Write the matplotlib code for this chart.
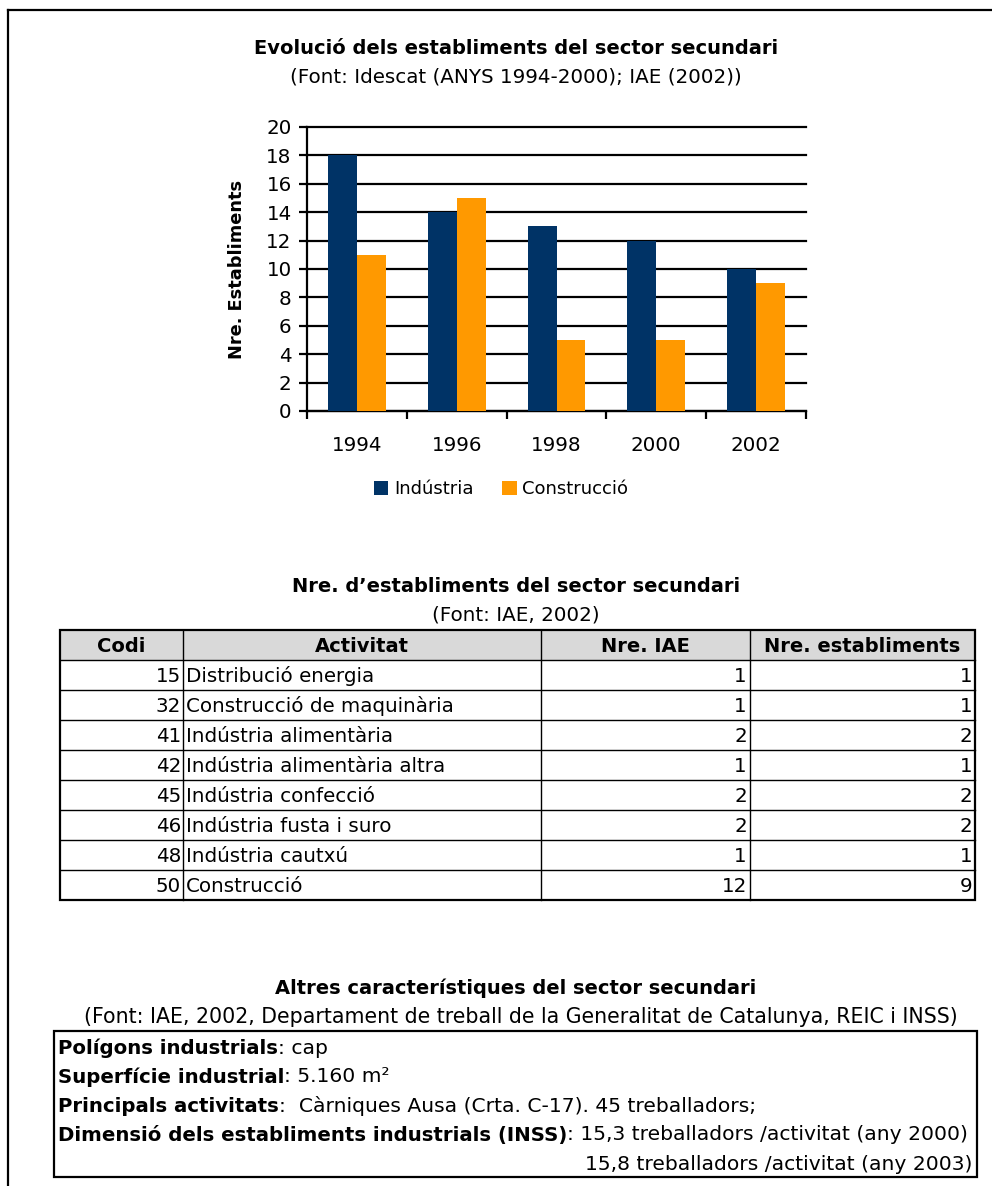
import numpy as np
import matplotlib
matplotlib.use('Agg')
import matplotlib.pyplot as plt
from matplotlib.patches import Rectangle

plt.rcParams['font.family'] = ['DejaVu Sans']

# chart data
years = ['1994', '1996', '1998', '2000', '2002']
industria = [18, 14, 13, 12, 10]
construccio = [11, 15, 5, 5, 9]

# table data
codis = [15, 32, 41, 42, 45, 46, 48, 50]
activitats = ['Distribució energia', 'Construcció de maquinària', 'Indústria alimentària',
              'Indústria alimentària altra', 'Indústria confecció', 'Indústria fusta i suro',
              'Indústria cautxú', 'Construcció']
nre_iae = [1, 1, 2, 1, 2, 2, 1, 12]
nre_est = [1, 1, 2, 1, 2, 2, 1, 9]
headers = ['Codi', 'Activitat', 'Nre. IAE', 'Nre. establiments']

# other features box
feat_bold = ['Polígons industrials', 'Superfície industrial', 'Principals activitats',
             'Dimensió dels establiments industrials (INSS)']
feat_text = [': cap', ': 5.160 m²', ':  Càrniques Ausa (Crta. C-17). 45 treballadors;',
             ': 15,3 treballadors /activitat (any 2000)']
feat_extra = '15,8 treballadors /activitat (any 2003)'

W, H = 992, 1186
fig = plt.figure(figsize=(W / 100, H / 100), dpi=100)

NAVY = '#003366'
ORANGE = '#FF9900'
FS = 14.3      # regular text
FSB = 14.0     # bold titles

# ---- bar chart ----
ax = fig.add_axes([307 / W, 1 - 411 / H, 499 / W, 284 / H])
x = np.arange(len(years))
bw = 0.29
b1 = ax.bar(x - bw / 2, industria, bw, color=NAVY, label='Indústria', zorder=3)
b2 = ax.bar(x + bw / 2, construccio, bw, color=ORANGE, label='Construcció', zorder=3)
ax.set_xlim(-0.5, len(years) - 0.5)
ax.set_ylim(0, 20)
ax.set_yticks(np.arange(0, 21, 2))
ax.set_xticks(x)
ax.set_xticklabels(years)
ax.set_xticks(np.arange(-0.5, len(years), 1), minor=True)
ax.tick_params(axis='x', which='major', length=0, pad=18, labelsize=FS)
ax.tick_params(axis='x', which='minor', length=6, width=1.6, direction='out')
ax.tick_params(axis='y', length=6, width=1.6, labelsize=FS, pad=5)
ax.yaxis.grid(True, color='black', linewidth=1.6, zorder=0)
for gl in ax.get_ygridlines():
    gl.set_clip_on(False)
ax.set_axisbelow(True)
for s in ['top', 'right']:
    ax.spines[s].set_visible(False)
ax.spines['left'].set_linewidth(1.6)
ax.spines['bottom'].set_linewidth(1.6)
ax.set_ylabel('Nre. Establiments', fontsize=12.8, fontweight='bold', labelpad=15)

fig.legend(handles=[b1, b2], loc='center', bbox_to_anchor=(501 / W, 1 - 489 / H),
           ncol=2, frameon=False, fontsize=13, handlelength=0.8, handleheight=0.8,
           handletextpad=0.3, columnspacing=1.6)

# ---- overlay in pixel coordinates ----
ov = fig.add_axes([0, 0, 1, 1], zorder=-1)
ov.set_xlim(0, W)
ov.set_ylim(H, 0)
ov.axis('off')

# page frame
ov.plot([8, W], [10, 10], color='black', lw=1.6)
ov.plot([8, 8], [10, H], color='black', lw=1.6)

ov.text(516, 48, 'Evolució dels establiments del sector secundari', ha='center', va='center',
        fontsize=FSB, fontweight='bold')
ov.text(516, 77, '(Font: Idescat (ANYS 1994-2000); IAE (2002))', ha='center', va='center',
        fontsize=FS)

# ---- table ----
ov.text(516, 587, 'Nre. d\u2019establiments del sector secundari', ha='center', va='center',
        fontsize=FSB, fontweight='bold')
ov.text(516, 615, '(Font: IAE, 2002)', ha='center', va='center', fontsize=FS)

col_x = [60, 183, 541, 750, 975]
top, hdr_h, row_h = 630, 30, 30
n = len(codis)
bottom = top + hdr_h + n * row_h
ov.add_patch(Rectangle((col_x[0], top), col_x[-1] - col_x[0], hdr_h, facecolor='#D9D9D9',
                       edgecolor='none'))
for i, h in enumerate(headers):
    ov.text((col_x[i] + col_x[i + 1]) / 2, top + hdr_h / 2 + 1, h, ha='center', va='center',
            fontsize=FSB, fontweight='bold')
for r in range(n):
    yc = top + hdr_h + r * row_h + row_h / 2 + 1
    ov.text(col_x[1] - 2, yc, str(codis[r]), ha='right', va='center', fontsize=FS)
    ov.text(col_x[1] + 3, yc, activitats[r], ha='left', va='center', fontsize=FS)
    ov.text(col_x[3] - 3, yc, str(nre_iae[r]), ha='right', va='center', fontsize=FS)
    ov.text(col_x[4] - 3, yc, str(nre_est[r]), ha='right', va='center', fontsize=FS)
# grid lines
for r in range(1, n + 1):
    yl = top + hdr_h + (r - 1) * row_h
    ov.plot([col_x[0], col_x[-1]], [yl, yl], color='black', lw=1.0)
for cx in col_x[1:-1]:
    ov.plot([cx, cx], [top, bottom], color='black', lw=1.0)
ov.add_patch(Rectangle((col_x[0], top), col_x[-1] - col_x[0], bottom - top, facecolor='none',
                       edgecolor='black', lw=1.6))

# ---- other features ----
ov.text(516, 988, 'Altres característiques del sector secundari', ha='center', va='center',
        fontsize=FSB, fontweight='bold')
ov.text(521, 1017, '(Font: IAE, 2002, Departament de treball de la Generalitat de Catalunya, REIC i INSS)',
        ha='center', va='center', fontsize=14.8)
ov.add_patch(Rectangle((54, 1031), 923, 146, facecolor='none', edgecolor='black', lw=1.6))

renderer = fig.canvas.get_renderer()
line_y = [1048, 1077, 1106, 1135]
for yb, bt, rt in zip(line_y, feat_bold, feat_text):
    t = ov.text(58, yb, bt, ha='left', va='center', fontsize=14.25, fontweight='bold')
    ext = t.get_window_extent(renderer)
    ov.text(ext.x1, yb, rt, ha='left', va='center', fontsize=14.55)
ov.text(972, 1164, feat_extra, ha='right', va='center', fontsize=14.55)

fig.savefig('out.png', dpi=100)
